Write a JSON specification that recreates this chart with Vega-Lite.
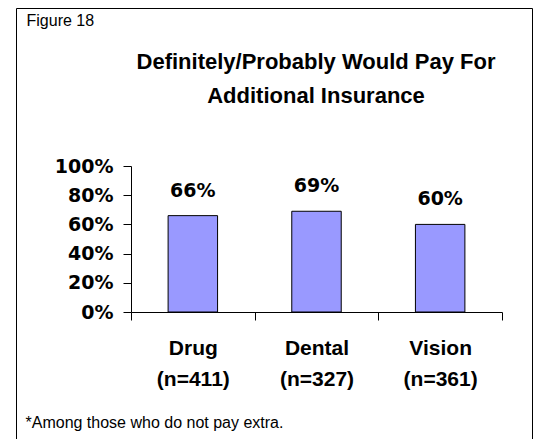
{
  "$schema": "https://vega.github.io/schema/vega-lite/v6.json",
  "width": 516,
  "height": 432,
  "autosize": {"type": "none"},
  "padding": {"left": 16, "top": 8, "right": 6, "bottom": 0},
  "background": "white",
  "config": {"view": {"stroke": "black", "strokeWidth": 1, "fill": "white"}},
  "title": {
    "text": ["Definitely/Probably Would Pay For", "Additional Insurance"],
    "anchor": "middle",
    "frame": "group",
    "font": "Liberation Sans",
    "fontSize": 22,
    "fontWeight": "bold",
    "color": "black",
    "lineHeight": 34,
    "offset": -100,
    "dx": 42
  },
  "data": {
    "values": [
      {"group": "Drug (n=411)", "share": 0.66},
      {"group": "Dental (n=327)", "share": 0.69},
      {"group": "Vision (n=361)", "share": 0.60}
    ]
  },
  "encoding": {
    "x": {
      "field": "group",
      "type": "nominal",
      "sort": null,
      "scale": {"range": [115, 486], "paddingInner": 0, "paddingOuter": 0},
      "axis": {
        "title": "*Among those who do not pay extra.",
        "orient": "bottom",
        "offset": -128,
        "labelAngle": 0,
        "tickBand": "extent",
        "tickSize": 8,
        "tickColor": "black",
        "domainColor": "black",
        "labelExpr": "split(datum.label, ' ')",
        "labelFont": "Liberation Sans",
        "labelFontWeight": "bold",
        "labelFontSize": 21,
        "labelLineHeight": 31,
        "labelPadding": 17,
        "labelColor": "black",
        "titleX": 9,
        "titleY": 115,
        "titleAlign": "left",
        "titleAnchor": "start",
        "titleBaseline": "alphabetic",
        "titleFont": "Liberation Sans",
        "titleFontSize": 16,
        "titleFontWeight": "normal",
        "titleColor": "black"
      }
    },
    "y": {
      "field": "share",
      "type": "quantitative",
      "scale": {"domain": [0, 1], "range": [304, 158], "nice": false},
      "axis": {
        "title": "Figure 18",
        "orient": "left",
        "offset": -115,
        "values": [0, 0.2, 0.4, 0.6, 0.8, 1],
        "format": ".0%",
        "grid": false,
        "tickSize": 8,
        "tickColor": "black",
        "domainColor": "black",
        "labelFont": "DejaVu Sans",
        "labelFontWeight": "bold",
        "labelFontSize": 19,
        "labelColor": "black",
        "labelPadding": 10,
        "labelFlush": false,
        "labelOverlap": false,
        "titleAngle": 0,
        "titleX": -105,
        "titleY": 17,
        "titleAlign": "left",
        "titleBaseline": "alphabetic",
        "titleFont": "Liberation Sans",
        "titleFontSize": 16,
        "titleFontWeight": "normal",
        "titleColor": "black"
      }
    }
  },
  "layer": [
    {"mark": {"type": "bar", "width": {"band": 0.4}, "fill": "#9999ff", "stroke": "black", "strokeWidth": 1}},
    {
      "mark": {"type": "text", "dy": -19, "baseline": "alphabetic", "font": "DejaVu Sans", "fontWeight": "bold", "fontSize": 19, "color": "black"},
      "encoding": {"text": {"field": "share", "format": ".0%"}}
    }
  ]
}
